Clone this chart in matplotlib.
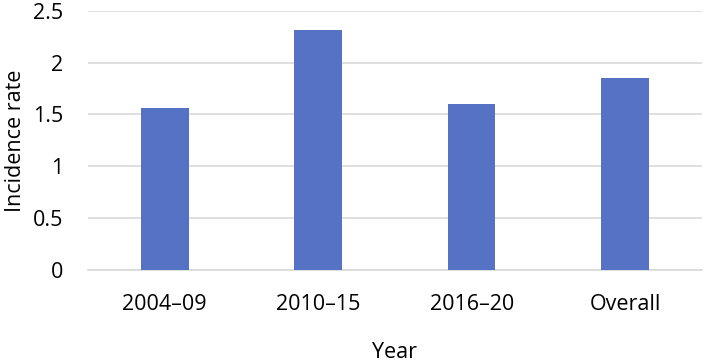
import matplotlib.pyplot as plt

# Daten
kategorien = ["2004\u201309", "2010\u201315", "2016\u201320", "Overall"]
werte = [1.567, 2.317, 1.60, 1.856]

plt.rcParams["font.family"] = ["Open Sans", "DejaVu Sans"]

fig = plt.figure(figsize=(7.04, 3.63), dpi=100)
ax = fig.add_axes([0.125, 0.256, 0.872, 0.7145])

ax.bar(range(len(kategorien)), werte, width=0.31, color="#5572C4", zorder=3)

ax.set_xlim(-0.5, len(kategorien) - 0.5)
ax.set_ylim(0, 2.5)
ax.set_yticks([0, 0.5, 1, 1.5, 2, 2.5])
ax.set_yticklabels(["0", "0.5", "1", "1.5", "2", "2.5"])
ax.set_xticks(range(len(kategorien)))
ax.set_xticklabels(kategorien)

ax.grid(axis="y", color="#D9D9D9", linewidth=1.2, zorder=0)
for s in ["top", "right", "left"]:
    ax.spines[s].set_visible(False)
ax.spines["bottom"].set_color("#D9D9D9")
ax.spines["bottom"].set_linewidth(1.2)
ax.tick_params(axis="both", length=0, labelsize=15.5, colors="black")
ax.tick_params(axis="y", pad=18)
ax.tick_params(axis="x", pad=17)

ax.set_ylabel("Incidence rate", fontsize=15.5, labelpad=5)
ax.set_xlabel("Year", fontsize=15.5, labelpad=20)

fig.savefig("out.png", dpi=100)
